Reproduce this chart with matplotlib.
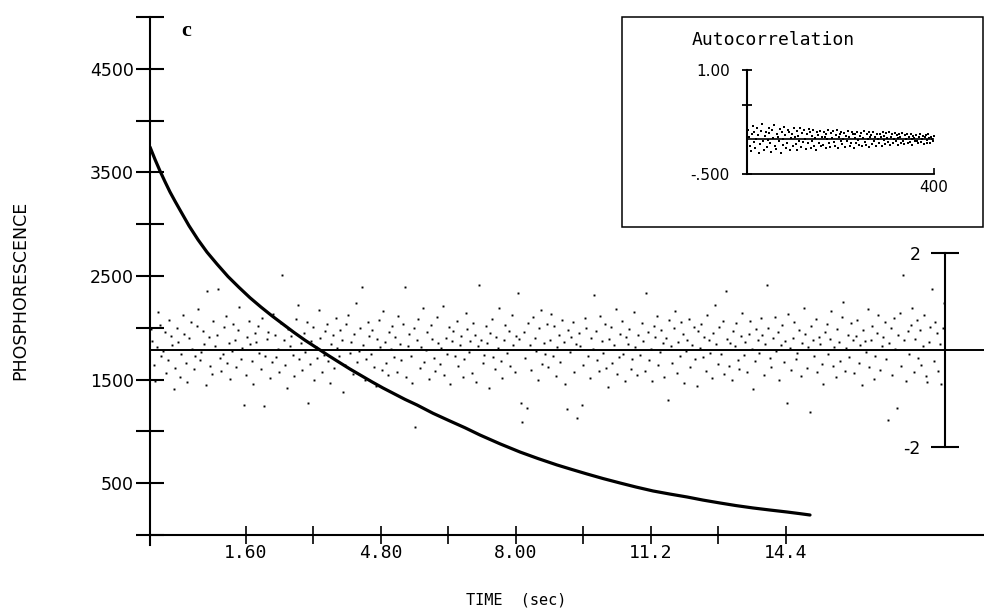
import matplotlib
matplotlib.use("Agg")
import matplotlib.pyplot as plt
from matplotlib.patches import Rectangle

# ---------------- data ----------------
decay_time = [-0.666, -0.547, -0.429, -0.310, -0.192, -0.073, 0.045, 0.258, 0.472, 0.685,
              0.922, 1.182, 1.443, 1.704, 1.964, 2.225, 2.486, 2.747, 3.007, 3.291,
              3.552, 3.813, 4.073, 4.334, 4.595, 4.855, 5.116, 5.377, 5.661, 6.040,
              6.443, 6.799, 7.154, 7.628, 8.102, 8.529, 8.979, 9.334, 9.690, 10.069,
              10.472, 10.851, 11.254, 11.656, 12.059, 12.438, 12.841, 13.220, 13.623, 14.026,
              14.429, 14.737, 14.974]
decay_value = [3745, 3625, 3514, 3410, 3311, 3222, 3137, 2985, 2850, 2730,
               2615, 2495, 2390, 2290, 2200, 2115, 2035, 1955, 1880, 1805,
               1735, 1668, 1602, 1540, 1478, 1419, 1364, 1309, 1255, 1175,
               1100, 1035, 965, 880, 801, 738, 676, 632, 589, 545,
               502, 463, 425, 395, 367, 337, 309, 284, 261, 241,
               222, 206, 193]

residuals = [
    0.42, 0.18, -0.31, -0.64, 0.05, 0.77, 0.51, -0.12, -0.03, 0.36, -0.48, -0.21, 0.62, 0.29, 0.09, -0.82, -0.37, 0.44, 0.15, -0.56,
    -0.09, 0.71, 0.33, -0.27, -0.66, 0.24, 0.57, 0.02, -0.40, -0.14, 0.49, 0.83, -0.22, -0.05, 0.38, 0.12, -0.73, 1.20, 0.26, -0.33,
    -0.51, 0.60, 0.07, 0.31, 1.25, -0.17, -0.44, -0.08, 0.46, 0.69, -0.28, 0.14, -0.61, -0.02, 0.53, 0.21, -0.35, 0.40, 0.88, -0.19,
    0.03, -1.15, -0.52, 0.27, 0.59, 0.11, -0.24, -0.70, 0.34, 0.16, 0.48, -0.06, -0.39, 0.65, -1.16, -0.13, 0.22, 0.37, -0.58, -0.26,
    0.74, 0.30, -0.15, 0.01, -0.47, 0.55, 1.53, 0.19, -0.32, -0.78, 0.43, 0.08, 0.28, -0.11, -0.55, 0.63, 0.92, -0.20, 0.13, -0.42,
    0.35, -0.04, 0.58, -1.10, -0.29, 0.17, 0.47, -0.63, 0.06, -0.18, 0.81, 0.25, -0.45, -0.10, 0.39, 0.54, -0.23, -0.68, 0.12, 0.30,
    -0.37, 0.66, 0.04, -0.14, 0.41, 0.20, -0.87, -0.31, 0.52, 0.72, -0.07, 0.15, -0.50, 0.33, 0.97, -0.26, -0.02, 0.45, 1.30, 0.10,
    -0.62, -0.19, 0.57, 0.28, -0.09, 0.40, -0.35, -0.74, 0.23, 0.61, 0.05, -0.41, 0.79, 0.16, -0.28, -0.53, 0.36, 0.02, 0.49, -0.15,
    0.27, -0.46, 0.70, 0.11, -0.22, 0.53, 1.30, -0.57, 0.08, 0.32, -0.13, -0.69, 0.44, -1.60, 0.19, 0.63, -0.38, 0.06, 0.85, -0.25,
    -0.01, 0.37, -0.60, 0.50, 0.22, -0.17, -0.43, 0.68, 0.14, -0.30, 0.03, 0.91, -0.52, 0.25, -0.08, 0.46, -0.71, 0.18, 0.39, -0.12,
    0.60, -0.34, 0.09, 0.28, -0.56, -0.20, 0.75, 0.42, -0.05, 0.17, -0.48, 0.55, 0.31, -0.66, 0.07, 1.34, 0.21, -0.27, -0.11, 0.48,
    0.13, -0.79, 0.34, 0.64, -0.15, -0.40, 0.26, 0.04, 0.87, -0.24, -0.58, 0.19, 0.50, -0.07, 0.38, -0.33, 0.71, 0.10, -0.45, 0.29,
    1.17, 0.23, -1.10, -1.50, 0.36, -0.18, -1.20, 0.56, 0.09, -0.41, 0.67, 0.24, -0.02, -0.62, 0.45, 0.81, -0.30, 0.14, -0.09, 0.52,
    -0.36, 0.20, 0.73, -0.13, 0.48, -0.54, 0.06, 0.30, -0.25, 0.62, 0.15, -0.70, -1.23, 0.41, -0.04, 0.27, 0.58, -0.47, 0.11, -1.40,
    0.35, 0.08, -1.15, -0.32, 0.66, 0.44, -0.12, -0.59, 0.25, 0.02, 1.13, 0.39, -0.21, -0.44, 0.70, 0.17, -0.06, 0.53, -0.37, -0.76,
    0.22, 0.47, -0.28, 0.09, 0.84, -0.50, -0.16, 0.33, 0.60, -0.08, -0.65, 0.26, 0.12, 0.43, -0.39, -0.19, 0.77, 0.05, -0.53, 0.31,
    -0.10, 0.55, 0.18, -0.43, 1.17, 0.36, -0.22, 0.02, -0.64, 0.49, 0.27, 0.69, -0.31, -0.05, 0.40, 0.13, -0.57, 0.24, -1.03, 0.61,
    0.07, -0.27, 0.44, 0.80, -0.48, 0.15, -0.12, 0.57, 0.32, -0.68, -0.03, 0.21, 0.63, -0.36, 0.10, 0.47, -0.20, -0.74, 0.38, 0.04,
    0.52, -0.15, 0.26, -0.44, 0.71, 0.19, -0.06, -0.58, 0.35, 0.92, 0.11, -0.29, 0.46, -0.09, 0.60, -0.51, 1.20, 0.23, -0.34, 0.14,
    -0.62, 0.39, 0.07, 0.55, -0.21, -0.40, 0.28, 0.76, -0.11, 0.16, -0.47, 0.33, 0.59, 0.01, -0.81, -0.24, 0.42, 0.20, -0.07, 0.66,
    0.30, -0.53, 0.12, 1.34, 0.45, -0.17, -0.36, 0.24, 0.68, -0.02, 0.37, -0.63, 0.09, 0.51, -0.26, 0.18, -1.10, 0.73, 0.03, -0.42,
    0.25, 0.58, -0.19, -0.06, 0.41, -0.55, 0.14, 0.86, 0.32, -0.38, 0.05, -1.28, 0.49, 0.20, -0.13, 0.64, -0.45, 0.27, 0.11, -0.30,
    -0.70, 0.36, 0.52, -0.08, 0.22, 0.79, -0.34, 0.06, -0.57, 0.43, 0.15, -0.23, 0.67, 0.98, -0.44, 0.04, 0.31, -0.16, 0.55, 0.19,
    -0.49, 0.28, 0.62, -0.27, 0.10, -0.73, 0.40, 0.17, -0.05, 0.83, -0.36, 0.21, 0.48, -0.60, -0.12, 0.34, 0.71, -0.41, 0.08, 0.26,
    0.57, -0.20, -1.45, 0.13, 0.44, -0.52, 0.65, 0.02, -1.20, 0.30, 0.75, -0.33, 1.53, 0.19, -0.64, 0.38, -0.09, 0.50, 0.85, -0.46,
    0.23, 0.61, -0.18, 0.40, -0.31, 0.07, 0.72, -0.55, -0.66, 0.16, 0.47, 1.26, -0.24, 0.58, 0.34, -0.43, 0.12, -0.71, 0.45, 0.96,
]

autocorr = [
    0.14, 0.03, -0.09, -0.17, 0.08, 0.19, 0.11, -0.04, -0.13, 0.01, 0.16, 0.06, -0.20, -0.07, 0.12, 0.22, -0.02, -0.15, 0.05, 0.10,
    -0.11, -0.01, 0.17, 0.09, -0.06, -0.18, 0.13, 0.02, 0.20, -0.09, -0.14, 0.07, 0.04, -0.03, 0.15, -0.19, 0.11, 0.00, -0.08, 0.18,
    0.06, -0.12, -0.05, 0.14, 0.10, -0.16, 0.02, 0.08, -0.10, 0.17, 0.03, -0.07, -0.15, 0.12, 0.05, -0.02, 0.16, -0.11, 0.09, -0.04,
    0.13, 0.01, -0.14, 0.07, -0.06, 0.15, 0.10, -0.12, -0.03, 0.05, 0.14, -0.09, 0.02, -0.15, 0.11, 0.06, -0.05, 0.12, -0.10, 0.03,
    -0.08, 0.10, 0.04, -0.13, 0.08, 0.00, 0.13, -0.06, -0.11, 0.09, 0.02, 0.12, -0.04, -0.09, 0.06, 0.14, -0.12, 0.03, 0.07, -0.02,
    0.11, -0.07, 0.01, 0.09, -0.11, 0.05, -0.03, 0.12, 0.04, -0.09, -0.05, 0.10, 0.07, -0.12, 0.02, 0.08, -0.06, 0.11, -0.01, -0.08,
    0.05, 0.09, -0.10, 0.02, 0.12, -0.04, -0.08, 0.07, 0.00, 0.10, -0.11, 0.03, 0.06, -0.07, 0.11, -0.02, 0.04, -0.09, 0.08, 0.01,
    -0.06, 0.08, 0.03, -0.09, 0.10, -0.01, 0.05, -0.07, 0.09, 0.02, -0.04, 0.11, -0.08, 0.04, 0.07, -0.05, 0.00, 0.09, -0.03, 0.06,
    0.02, -0.08, 0.07, 0.04, -0.05, 0.09, -0.02, -0.07, 0.06, 0.01, 0.08, -0.06, 0.03, -0.04, 0.07, 0.00, -0.08, 0.05, 0.02, -0.03,
    0.06, -0.02, -0.06, 0.04, 0.08, -0.04, 0.01, 0.05, -0.07, 0.03, 0.06, -0.01, -0.05, 0.07, 0.02, -0.06, 0.04, 0.00, -0.03, 0.05,
]
autocorr_lag = [2 * (i + 1) for i in range(len(autocorr))]

y_major = [500, 1500, 2500, 3500, 4500]
y_major_labels = ["500", "1500", "2500", "3500", "4500"]
y_minor = [0, 1000, 2000, 3000, 4000, 5000]
x_major = [1.6, 4.8, 8.0, 11.2, 14.4]
x_major_labels = ["1.60", "4.80", "8.00", "11.2", "14.4"]
x_minor = [3.2, 6.4, 9.6, 12.8]

# ---------------- figure ----------------
W, H = 984, 609
fig = plt.figure(figsize=(W / 100, H / 100), dpi=100)
fig.patch.set_facecolor("white")

def fx(px):
    return px / W

def fy(py):
    return 1 - py / H

MONO = "DejaVu Sans Mono"
SANS = "DejaVu Sans"

# main axes
ax = fig.add_axes([fx(150), fy(535), fx(984) - fx(150), fy(17) - fy(535)])
ax.set_facecolor("none")
ax.set_xlim(-0.666, 19.097)
ax.set_ylim(0, 5000)
for s in ("top", "right"):
    ax.spines[s].set_visible(False)
ax.spines["left"].set_linewidth(1.5)
ax.spines["bottom"].set_linewidth(1.5)
ax.spines["left"].set_bounds(-100, 5000)

ax.set_yticks(y_major)
ax.set_yticklabels(y_major_labels, fontsize=12.5, fontfamily=SANS)
ax.set_yticks(y_minor, minor=True)
ax.tick_params(axis="y", which="both", direction="inout", length=19.5, width=1.5, pad=2)

ax.set_xticks(x_major)
ax.set_xticklabels(x_major_labels, fontsize=13, fontfamily=MONO)
ax.set_xticks(x_minor, minor=True)
ax.tick_params(axis="x", which="both", direction="inout", length=13, width=1.2, pad=0)

ax.plot(decay_time, decay_value, color="black", lw=2.3,
        solid_capstyle="round", solid_joinstyle="round")

# residual axes
ax_r = fig.add_axes([fx(150), fy(446.7), fx(945) - fx(150), fy(252.7) - fy(446.7)])
ax_r.set_facecolor("none")
n = len(residuals)
ax_r.set_xlim(-0.5, n - 0.5)
ax_r.set_ylim(-2, 2)
for s in ("top", "right", "bottom"):
    ax_r.spines[s].set_visible(False)
ax_r.spines["left"].set_position(("axes", 1.0))
ax_r.spines["left"].set_linewidth(1.5)
ax_r.set_xticks([])
ax_r.set_yticks([-2, 2])
ax_r.set_yticklabels(["-2", "2"], fontsize=12.5, fontfamily=SANS)
ax_r.tick_params(axis="y", direction="inout", length=19.5, width=1.5, pad=8)
ax_r.axhline(0, xmin=0, xmax=(984 - 150) / (945 - 150), color="black", lw=1.4, clip_on=False)
ax_r.plot(range(n), residuals, linestyle="none", marker="s", ms=1.4, color="black",
          markeredgewidth=0, clip_on=False)

# inset box
fig.patches.append(Rectangle((fx(622), fy(227)), fx(983) - fx(622), fy(17) - fy(227),
                             transform=fig.transFigure, fill=False, lw=1.1, ec="black"))
fig.text(fx(692), fy(40), "Autocorrelation", fontsize=13, fontfamily=MONO,
         ha="left", va="center")

ax_i = fig.add_axes([fx(747), fy(174), fx(934) - fx(747), fy(70) - fy(174)])
ax_i.set_facecolor("none")
ax_i.set_xlim(0, 400)
ax_i.set_ylim(-0.5, 1.0)
for s in ("top", "right"):
    ax_i.spines[s].set_visible(False)
ax_i.spines["left"].set_linewidth(1.5)
ax_i.spines["bottom"].set_linewidth(1.3)
ax_i.set_yticks([-0.5, 0.5, 1.0])
ax_i.set_yticklabels(["-.500", "", "1.00"], fontsize=11, fontfamily=SANS)
ax_i.tick_params(axis="y", direction="inout", length=7, width=1.3, pad=9)
ax_i.set_xticks([400])
ax_i.set_xticklabels(["400"], fontsize=11, fontfamily=SANS)
ax_i.tick_params(axis="x", direction="in", length=4, width=1.2, pad=4)
ax_i.axhline(0, color="black", lw=1.2)
ax_i.plot(autocorr_lag, autocorr, linestyle="none", marker="s", ms=1.9, color="black",
          markeredgewidth=0)

# labels
fig.text(fx(20), fy(290), "PHOSPHORESCENCE", rotation=90, fontsize=12.5,
         fontfamily=SANS, ha="center", va="center")
fig.text(fx(516), fy(600), "TIME  (sec)", fontsize=11, fontfamily=MONO,
         ha="center", va="center")
fig.text(fx(186), fy(31), "c", fontsize=16, fontfamily="Liberation Serif",
         fontweight="bold", ha="center", va="center")

fig.savefig("out.png", dpi=100)
